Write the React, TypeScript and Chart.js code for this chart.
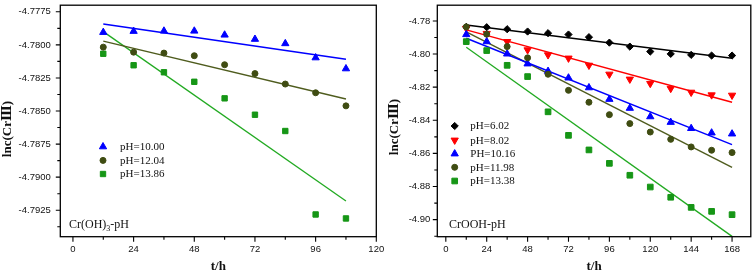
import React, { useEffect, useRef } from 'react';
import { Chart, registerables } from 'chart.js';

Chart.register(...registerables);

// ---------- Left panel: Cr(OH)3-pH ----------
const leftHours = [12, 24, 36, 48, 60, 72, 84, 96, 108];
const leftPH1000 = [-4.77905, -4.77897, -4.77895, -4.77895, -4.77925, -4.77957, -4.7799, -4.78097, -4.7818];
const leftPH1204 = [-4.78017, -4.78055, -4.78062, -4.78082, -4.7815, -4.78217, -4.78296, -4.78362, -4.78461];
const leftPH1386 = [-4.78067, -4.78154, -4.78207, -4.78279, -4.78404, -4.78528, -4.78651, -4.79282, -4.79312];
const leftFitHours = [12, 108];
const leftFit1000 = [-4.77843, -4.78109];
const leftFit1204 = [-4.77972, -4.78409];
const leftFit1386 = [-4.779, -4.7918];
const leftXTicks = [0, 24, 48, 72, 96, 120];
const leftYTicks = [-4.7775, -4.78, -4.7825, -4.785, -4.7875, -4.79, -4.7925];
const leftLabels = ['pH=10.00', 'pH=12.04', 'pH=13.86'];

// ---------- Right panel: CrOOH-pH ----------
const rightHours = [12, 24, 36, 48, 60, 72, 84, 96, 108, 120, 132, 144, 156, 168];
const rightPH602 = [-4.7836, -4.7838, -4.785, -4.7864, -4.7874, -4.7882, -4.7898, -4.7931, -4.7955, -4.7985, -4.7999, -4.8005, -4.8009, -4.8009];
const rightPH802 = [-4.7845, -4.7876, -4.7925, -4.7975, -4.8005, -4.8025, -4.8068, -4.8122, -4.8152, -4.8178, -4.8208, -4.8231, -4.8247, -4.8249];
const rightPH1016 = [-4.7882, -4.7925, -4.7999, -4.8059, -4.8104, -4.8144, -4.8203, -4.8273, -4.8327, -4.8378, -4.8412, -4.8449, -4.8476, -4.8482];
const rightPH1198 = [-4.7836, -4.788, -4.7955, -4.8023, -4.8122, -4.8219, -4.8291, -4.8366, -4.842, -4.8471, -4.8515, -4.8561, -4.8581, -4.8595];
const rightPH1338 = [-4.7925, -4.7979, -4.8068, -4.8136, -4.8349, -4.8491, -4.8579, -4.866, -4.8732, -4.8803, -4.8865, -4.8926, -4.895, -4.897];
const rightFitHours = [12, 168];
const rightFit602 = [-4.7824, -4.8025];
const rightFit802 = [-4.7854, -4.8291];
const rightFit1016 = [-4.7905, -4.8547];
const rightFit1198 = [-4.7866, -4.8684];
const rightFit1338 = [-4.7959, -4.9101];
const rightXTicks = [0, 24, 48, 72, 96, 120, 144, 168];
const rightYTicks = [-4.78, -4.8, -4.82, -4.84, -4.86, -4.88, -4.9];
const rightLabels = ['pH=6.02', 'pH=8.02', 'PH=10.16', 'pH=11.98', 'pH=13.38'];

const Y_TITLE = 'lnc(CrⅢ)';
const X_TITLE = 't/h';

const BLUE = '#0000FF';
const OLIVE = '#3F4C12';
const OLIVE_LINE = '#4F5C1E';
const GREEN = '#169616';
const GREEN_LINE = '#22AA22';
const RED = '#FF0000';
const BLACK = '#000000';

const SERIF = "'Liberation Serif', 'DejaVu Serif', serif";
const SANS = "'Liberation Sans', Arial, sans-serif";

type Marker = { style: string; radius: number; rotation: number; color: string };

function zip(xs: number[], ys: number[]) {
  return xs.map((x, i) => ({ x, y: ys[i] }));
}

function pointSet(label: string, xs: number[], ys: number[], m: Marker) {
  return {
    label,
    data: zip(xs, ys),
    showLine: false,
    pointStyle: m.style,
    pointRadius: m.radius,
    pointRotation: m.rotation,
    pointBackgroundColor: m.color,
    pointBorderColor: m.color,
    pointBorderWidth: 1,
    order: 1,
  };
}

function fitSet(xs: number[], ys: number[], color: string, width: number) {
  return {
    label: '',
    data: zip(xs, ys),
    showLine: true,
    borderColor: color,
    borderWidth: width,
    pointRadius: 0,
    fill: false,
    order: 2,
  };
}

function drawMarker(ctx: CanvasRenderingContext2D, m: Marker, x: number, y: number) {
  ctx.save();
  ctx.fillStyle = m.color;
  ctx.strokeStyle = m.color;
  ctx.lineWidth = 1;
  ctx.beginPath();
  const r = m.radius;
  if (m.style === 'circle') {
    ctx.arc(x, y, r, 0, Math.PI * 2);
  } else if (m.style === 'rect') {
    const s = r * Math.SQRT1_2;
    ctx.rect(x - s, y - s, 2 * s, 2 * s);
  } else if (m.style === 'rectRot') {
    ctx.moveTo(x, y - r);
    ctx.lineTo(x + r, y);
    ctx.lineTo(x, y + r);
    ctx.lineTo(x - r, y);
  } else {
    let a = (m.rotation * Math.PI) / 180;
    ctx.moveTo(x + Math.sin(a) * r, y - Math.cos(a) * r);
    a += (2 * Math.PI) / 3;
    ctx.lineTo(x + Math.sin(a) * r, y - Math.cos(a) * r);
    a += (2 * Math.PI) / 3;
    ctx.lineTo(x + Math.sin(a) * r, y - Math.cos(a) * r);
  }
  ctx.closePath();
  ctx.fill();
  ctx.stroke();
  ctx.restore();
}

type PanelSpec = {
  width: number;
  height: number;
  pad: { left: number; top: number; right: number; bottom: number };
  yAxisWidth: number;
  xAxisHeight: number;
  xMin: number;
  xMax: number;
  yMin: number;
  yMax: number;
  xTicks: number[];
  yTicks: number[];
  yDecimals: number;
  yLabelPad: number;
  datasets: any[];
  legend: { labels: string[]; markers: Marker[]; markerX: number; textX: number; rows: number[] };
  note: { parts: { text: string; sub?: boolean }[]; x: number; y: number };
  yTitleX: number;
  yTitleY: number;
};

function makeOverlay(spec: PanelSpec) {
  return {
    id: 'panelOverlay',
    afterDraw(chart: any) {
      const { ctx, chartArea: a, scales } = chart;
      const xs = scales.x;
      const ys = scales.y;
      ctx.save();
      // frame
      ctx.strokeStyle = '#000';
      ctx.lineWidth = 1.3;
      ctx.strokeRect(a.left, a.top, a.right - a.left, a.bottom - a.top);
      // ticks
      ctx.lineWidth = 1.1;
      ctx.beginPath();
      const xt = spec.xTicks;
      const xStep = xt[1] - xt[0];
      for (let i = 0; i < xt.length; i++) {
        const px = xs.getPixelForValue(xt[i]);
        ctx.moveTo(px, a.bottom);
        ctx.lineTo(px, a.bottom + 5);
        const mv = xt[i] + xStep / 2;
        if (mv < spec.xMax) {
          const pm = xs.getPixelForValue(mv);
          ctx.moveTo(pm, a.bottom);
          ctx.lineTo(pm, a.bottom + 3);
        }
      }
      const yt = spec.yTicks;
      const yStep = yt[1] - yt[0];
      for (let i = 0; i < yt.length; i++) {
        const py = ys.getPixelForValue(yt[i]);
        ctx.moveTo(a.left, py);
        ctx.lineTo(a.left - 4.5, py);
        const mv = yt[i] + yStep / 2;
        if (mv > spec.yMin && mv < spec.yMax) {
          const pm = ys.getPixelForValue(mv);
          ctx.moveTo(a.left, pm);
          ctx.lineTo(a.left - 3, pm);
        }
      }
      ctx.stroke();

      // legend
      const lg = spec.legend;
      ctx.font = `11px ${SERIF}`;
      ctx.fillStyle = '#111';
      ctx.textBaseline = 'middle';
      ctx.textAlign = 'left';
      lg.labels.forEach((lab, i) => {
        drawMarker(ctx, lg.markers[i], lg.markerX, lg.rows[i]);
        ctx.fillStyle = '#111';
        ctx.fillText(lab, lg.textX, lg.rows[i] + 0.5);
      });

      // annotation
      let nx = spec.note.x;
      spec.note.parts.forEach((p) => {
        if (p.sub) {
          ctx.font = `8px ${SERIF}`;
          ctx.fillText(p.text, nx, spec.note.y + 4);
        } else {
          ctx.font = `12px ${SERIF}`;
          ctx.fillText(p.text, nx, spec.note.y);
        }
        nx += ctx.measureText(p.text).width;
      });

      // y title
      ctx.translate(spec.yTitleX, spec.yTitleY);
      ctx.rotate(-Math.PI / 2);
      ctx.font = `bold 13px ${SERIF}`;
      ctx.textAlign = 'center';
      ctx.fillText(Y_TITLE, 0, 0);
      ctx.restore();
    },
  };
}

function Panel({ spec, style }: { spec: PanelSpec; style: React.CSSProperties }) {
  const ref = useRef<HTMLCanvasElement | null>(null);
  useEffect(() => {
    if (!ref.current) return;
    const chart = new Chart(ref.current, {
      type: 'scatter',
      data: { datasets: spec.datasets },
      options: {
        animation: false,
        responsive: false,
        events: [],
        layout: { padding: spec.pad },
        plugins: { legend: { display: false }, tooltip: { enabled: false } },
        scales: {
          x: {
            type: 'linear',
            min: spec.xMin,
            max: spec.xMax,
            afterBuildTicks: (s: any) => {
              s.ticks = spec.xTicks.map((v) => ({ value: v }));
            },
            afterFit: (s: any) => {
              s.height = spec.xAxisHeight;
              s.paddingLeft = 0;
              s.paddingRight = 0;
            },
            ticks: {
              autoSkip: false,
              maxRotation: 0,
              padding: 7,
              color: '#111',
              font: { family: SANS, size: 9.5 },
              callback: (v: any) => String(v),
            },
            grid: { display: false, drawTicks: false },
            border: { display: false },
            title: {
              display: true,
              text: X_TITLE,
              color: '#111',
              padding: 0,
              font: { family: SERIF, size: 13, weight: 'bold' },
            },
          },
          y: {
            type: 'linear',
            min: spec.yMin,
            max: spec.yMax,
            afterBuildTicks: (s: any) => {
              s.ticks = spec.yTicks.map((v) => ({ value: v }));
            },
            afterFit: (s: any) => {
              s.width = spec.yAxisWidth;
              s.paddingTop = 0;
              s.paddingBottom = 0;
            },
            ticks: {
              autoSkip: false,
              padding: spec.yLabelPad,
              color: '#111',
              font: { family: SANS, size: 9.5 },
              callback: (v: any) => Number(v).toFixed(spec.yDecimals),
            },
            grid: { display: false, drawTicks: false },
            border: { display: false },
          },
        },
      },
      plugins: [makeOverlay(spec)],
    } as any);
    return () => chart.destroy();
  }, [spec]);
  return (
    <canvas
      ref={ref}
      width={spec.width}
      height={spec.height}
      style={{ position: 'absolute', width: spec.width, height: spec.height, ...style }}
    />
  );
}

const mBlueUp: Marker = { style: 'triangle', radius: 4.2, rotation: 0, color: BLUE };
const mOlive: Marker = { style: 'circle', radius: 3, rotation: 0, color: OLIVE };
const mGreenL: Marker = { style: 'rect', radius: 3.8, rotation: 0, color: GREEN };
const mBlack: Marker = { style: 'rectRot', radius: 3.6, rotation: 0, color: BLACK };
const mRedDown: Marker = { style: 'triangle', radius: 4.2, rotation: 180, color: RED };
const mGreenR: Marker = { style: 'rect', radius: 4, rotation: 0, color: GREEN };

const leftSpec: PanelSpec = {
  width: 392,
  height: 274,
  pad: { left: 0, top: 3.3, right: 392 - 376.3, bottom: 0 },
  yAxisWidth: 60.3,
  xAxisHeight: 274 - 236.7,
  xMin: -5,
  xMax: 120,
  yMin: -4.7945,
  yMax: -4.777,
  xTicks: leftXTicks,
  yTicks: leftYTicks,
  yDecimals: 4,
  yLabelPad: 9.5,
  datasets: [
    fitSet(leftFitHours, leftFit1000, BLUE, 1.5),
    fitSet(leftFitHours, leftFit1204, OLIVE_LINE, 1.4),
    fitSet(leftFitHours, leftFit1386, GREEN_LINE, 1.3),
    pointSet(leftLabels[0], leftHours, leftPH1000, mBlueUp),
    pointSet(leftLabels[1], leftHours, leftPH1204, mOlive),
    pointSet(leftLabels[2], leftHours, leftPH1386, mGreenL),
  ],
  legend: {
    labels: leftLabels,
    markers: [mBlueUp, mOlive, mGreenL],
    markerX: 103,
    textX: 120,
    rows: [146.7, 160.4, 174],
  },
  note: { parts: [{ text: 'Cr(OH)' }, { text: '3', sub: true }, { text: '-pH' }], x: 69, y: 224.5 },
  yTitleX: 8,
  yTitleY: 129,
};

const rightSpec: PanelSpec = {
  width: 378,
  height: 274,
  pad: { left: 9, top: 2, right: 378 - 375.3, bottom: 0 },
  yAxisWidth: 437.3 - 378 - 9,
  xAxisHeight: 274 - 236.7,
  xMin: -5,
  xMax: 179,
  yMin: -4.9103,
  yMax: -4.7705,
  xTicks: rightXTicks,
  yTicks: rightYTicks,
  yDecimals: 2,
  yLabelPad: 7,
  datasets: [
    fitSet(rightFitHours, rightFit602, BLACK, 1.5),
    fitSet(rightFitHours, rightFit802, RED, 1.5),
    fitSet(rightFitHours, rightFit1016, BLUE, 1.5),
    fitSet(rightFitHours, rightFit1198, OLIVE_LINE, 1.4),
    fitSet(rightFitHours, rightFit1338, GREEN_LINE, 1.3),
    pointSet(rightLabels[4], rightHours, rightPH1338, mGreenR),
    pointSet(rightLabels[3], rightHours, rightPH1198, mOlive),
    pointSet(rightLabels[2], rightHours, rightPH1016, mBlueUp),
    pointSet(rightLabels[1], rightHours, rightPH802, mRedDown),
    pointSet(rightLabels[0], rightHours, rightPH602, mBlack),
  ],
  legend: {
    labels: rightLabels,
    markers: [mBlack, mRedDown, mBlueUp, mOlive, mGreenR],
    markerX: 454.7 - 378,
    textX: 470.3 - 378,
    rows: [126, 140.2, 153.8, 167.3, 181],
  },
  note: { parts: [{ text: 'CrOOH-pH' }], x: 449 - 378, y: 225 },
  yTitleX: 395 - 378,
  yTitleY: 127,
};

export default function App() {
  return (
    <div style={{ position: 'absolute', left: 0, top: 0, width: 756, height: 274, background: '#fff', overflow: 'hidden' }}>
      <Panel spec={leftSpec} style={{ left: 0, top: 0 }} />
      <Panel spec={rightSpec} style={{ left: 378, top: 0 }} />
    </div>
  );
}
